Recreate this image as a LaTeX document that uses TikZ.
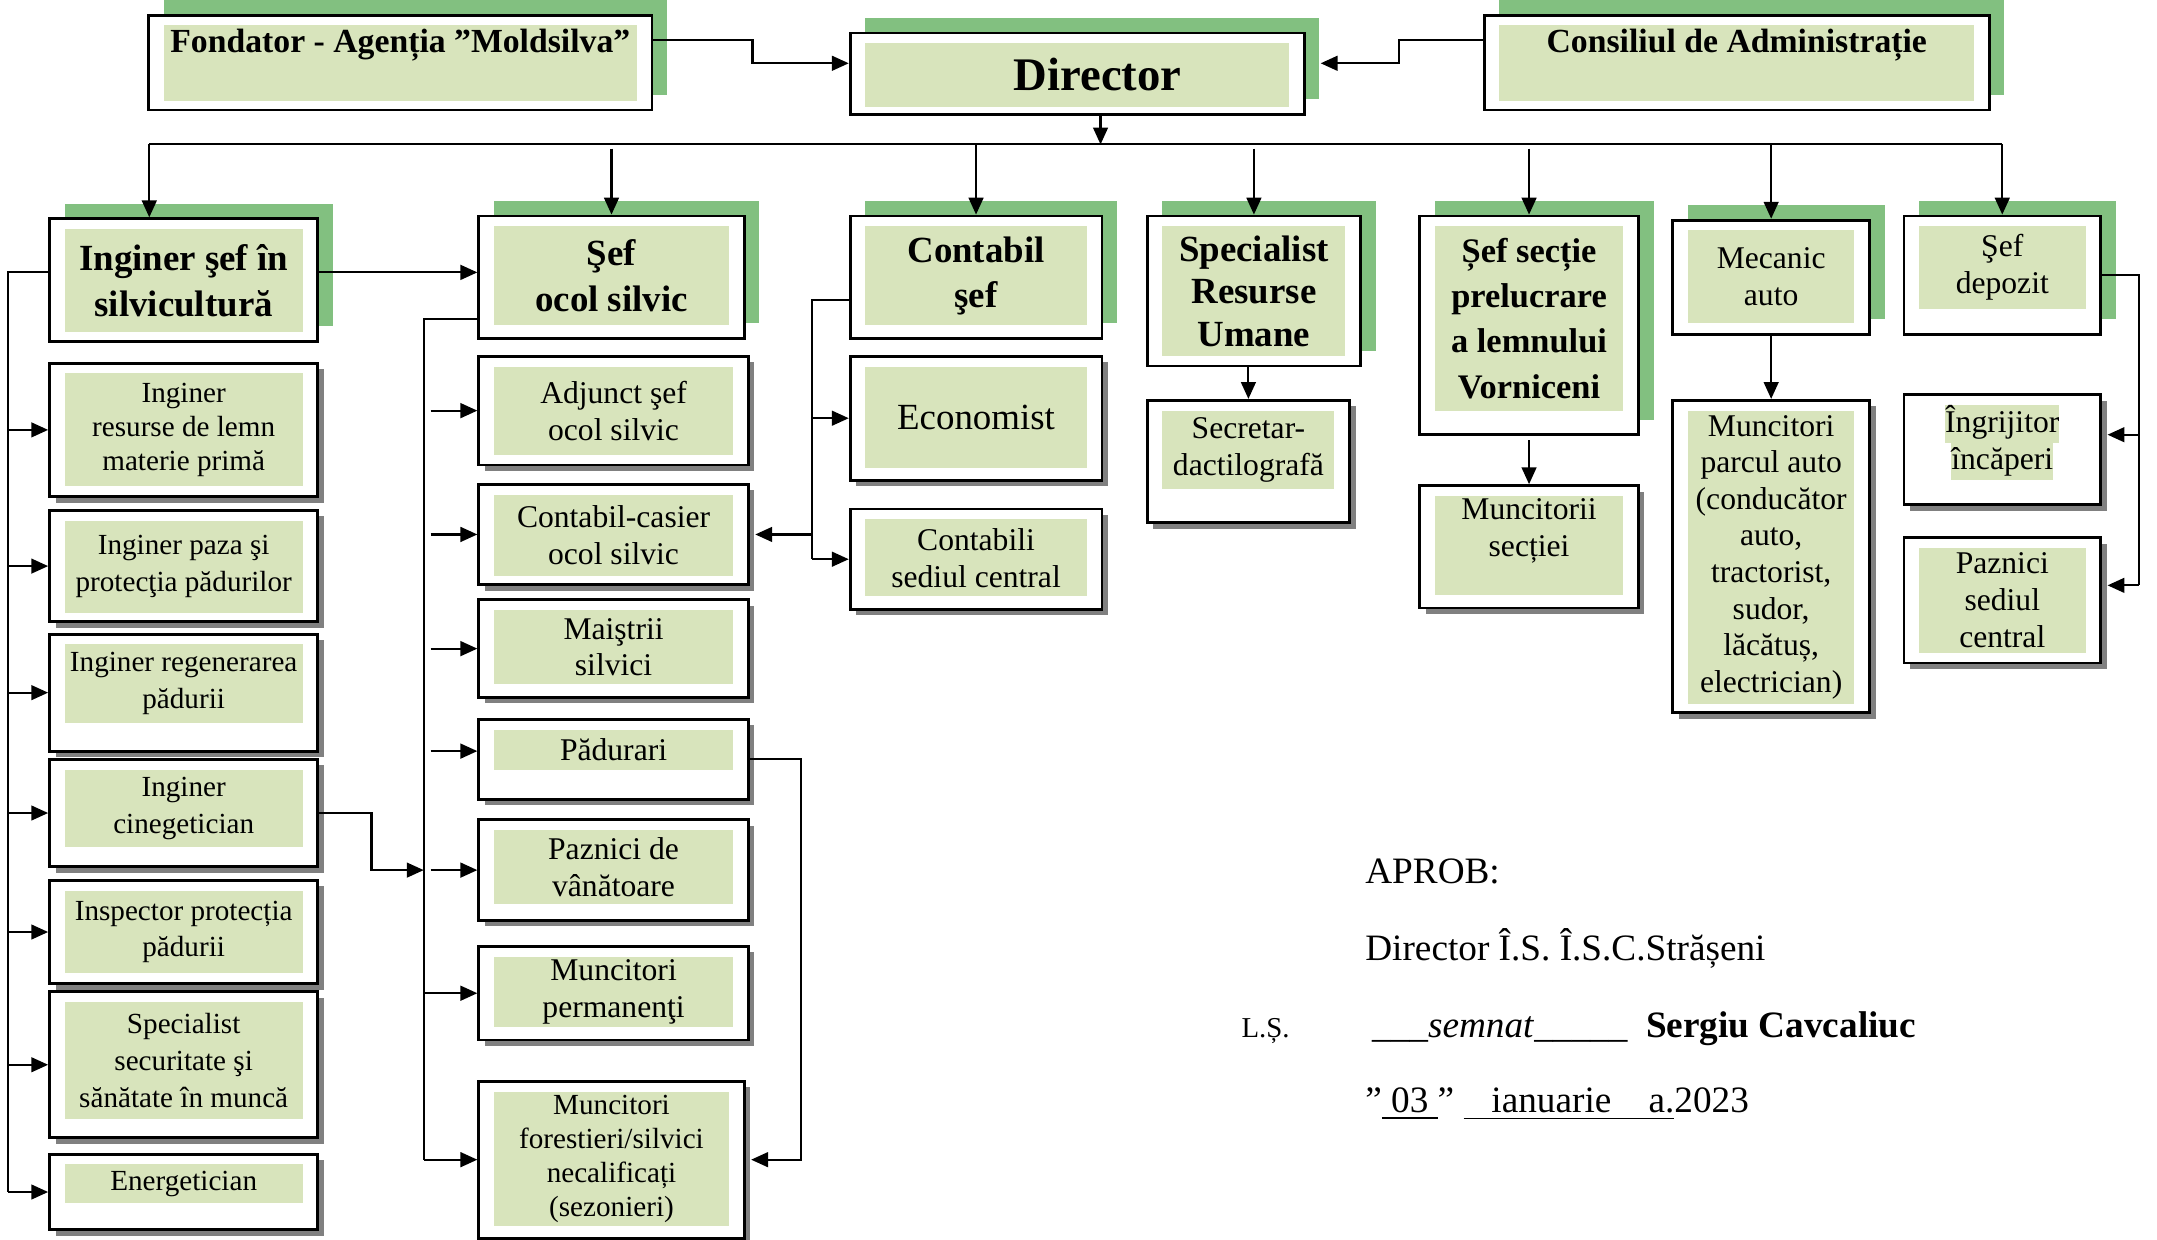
\documentclass[tikz,border=0pt]{standalone}
\usepackage{fontspec}
\setmainfont{Liberation Serif}
\usetikzlibrary{arrows.meta,shadows}
\definecolor{hdrgreen}{RGB}{130,192,128}
\definecolor{boxgreen}{RGB}{216,228,188}
\definecolor{shadowgray}{RGB}{128,128,128}
\setlength{\fboxsep}{0pt}
\def\pxu{0.013757cm}
\newcommand\fdir{\bfseries\fontsize{13.3}{16}\selectfont}
\newcommand\ftop{\bfseries\fontsize{9.6}{9.8}\selectfont}
\newcommand\fhdr{\bfseries\fontsize{10.5}{12.9}\selectfont}
\newcommand\fsub{\fontsize{9}{10.5}\selectfont}
\newcommand\fsmall{\fontsize{8.3}{10.5}\selectfont}
\newcommand\fnote{\fontsize{10.6}{12}\selectfont}
\def\orgbox[#1](#2)(#3,#4)(#5,#6)(#7)#8#9{%
  \node[#1, anchor=north west, minimum width=#5*\pxu, minimum height=#6*\pxu] (#2) at (#3,#4) {};
  \node[field, #8, minimum width=(#5-22)*\pxu, minimum height=#7*\pxu] (#2-t) at ([yshift=-8*\pxu]#2.north) {#9};}

\begin{document}
\begin{tikzpicture}[x=\pxu, y=-\pxu,
    frame/.style={draw, fill=white, line width=0.8pt, inner sep=0pt},
    hdr/.style={frame, general shadow={fill=hdrgreen, shadow xshift=4.3pt, shadow yshift=4.3pt}},
    sub/.style={frame, general shadow={fill=shadowgray, shadow xshift=1.7pt, shadow yshift=-1.7pt}},
    field/.style={fill=boxgreen, inner sep=0pt, align=center, anchor=north},
    link/.style={line width=0.6pt},
    arr/.style={link, -{Triangle[length=4.8pt,width=4.2pt]}},
    note/.style={inner sep=0pt, font=\fnote, anchor=base west}]
	%%%%% START %%%%%
	\useasboundingbox (0,0) rectangle (1568,901);
	
	\orgbox[hdr](fond)(107,10)(366,69)(55){font=\ftop}{Fondator - Agenția ”Moldsilva”\\ \strut}
	\orgbox[hdr](dir)(617,23)(330,59)(46){font=\fdir}{\hspace*{0.41cm}Director}
	\orgbox[hdr](cons)(1078,10)(367,69)(55){font=\ftop}{Consiliul de Administrație\\ \strut}
	
	\orgbox[hdr](ingsef)(35,158)(195,89)(75){font=\fhdr}{Inginer şef în\\silvicultură}
	\orgbox[hdr](sefocol)(347,156)(193,89)(72){font=\fhdr}{Şef\\ocol silvic}
	\orgbox[hdr](contsef)(617,156)(183,89)(72){font=\fhdr}{Contabil\\şef}
	\orgbox[hdr](specru)(833,156)(155,109)(94){font=\fontsize{10.5}{12.1}\bfseries\selectfont}{Specialist\\Resurse\\Umane}
	\orgbox[hdr](sefsec)(1031,156)(159,159)(134){font=\fontsize{9.8}{12.9}\bfseries\selectfont}{Șef secție\\prelucrare\\a lemnului\\Vorniceni}
	\orgbox[hdr](mecanic)(1215,159)(143,83)(67){font=\fsub}{Mecanic\\auto}
	\orgbox[hdr](sefdep)(1383,156)(143,86)(60){font=\fsub}{Şef\\depozit}
	
	\orgbox[sub](l1)(35,263)(195,97)(82){font=\fontsize{8.3}{9.6}\selectfont}{Inginer\\resurse de lemn\\materie primă}
	\orgbox[sub](l2)(35,370)(195,81)(67){font=\fsmall}{Inginer paza şi\\protecţia pădurilor}
	\orgbox[sub](l3)(35,460)(195,85)(57){font=\fsmall}{Inginer regenerarea\\pădurii}
	\orgbox[sub](l4)(35,551)(195,78)(56){font=\fsmall}{Inginer\\cinegetician}
	\orgbox[sub](l5)(35,639)(195,75)(60){font=\fsmall}{Inspector protecția\\pădurii}
	\orgbox[sub](l6)(35,720)(195,106)(85){font=\fsmall}{Specialist\\securitate şi\\sănătate în muncă}
	\orgbox[sub](l7)(35,838)(195,55)(28){font=\fsmall}{Energetician}
	
	\orgbox[sub](m1)(347,258)(196,79)(64){font=\fsub}{Adjunct şef\\ocol silvic}
	\orgbox[sub](m2)(347,351)(196,73)(59){font=\fsub}{Contabil-casier\\ocol silvic}
	\orgbox[sub](m3)(347,435)(196,71)(54){font=\fsub}{Maiştrii\\silvici}
	\orgbox[sub](m4)(347,522)(196,58)(29){font=\fsub}{Pădurari}
	\orgbox[sub](m5)(347,595)(196,73)(54){font=\fsub}{Paznici de\\vânătoare}
	\orgbox[sub](m6)(347,687)(196,68)(51){font=\fsub}{Muncitori\\permanenţi}
	\orgbox[sub](m7)(347,785)(193,114)(98){font=\fontsize{8.3}{9.6}\selectfont}{Muncitori\\forestieri/silvici\\necalificați\\(sezonieri)}
	
	\orgbox[sub](econ)(617,258)(183,90)(74){font=\fontsize{10.5}{12}\selectfont}{Economist}
	\orgbox[sub](contab)(617,369)(183,73)(56){font=\fsub}{Contabili\\sediul central}
	\orgbox[sub](secr)(833,290)(147,89)(57){font=\fsub}{Secretar-\\dactilografă}
	\orgbox[sub](munsec)(1031,352)(159,89)(72){font=\fsub}{Muncitorii\\secției\\[-3.5pt]\strut}
	\orgbox[sub](munparc)(1215,290)(143,227)(213){font=\fontsize{9}{10.4}\selectfont}{Muncitori\\parcul auto\\(conducător\\auto,\\tractorist,\\sudor,\\lăcătuș,\\electrician)}
	\orgbox[sub](ingr)(1383,286)(143,80)(53){font=\fsub, fill=none}{\colorbox{boxgreen}{\strut Îngrijitor}\\\colorbox{boxgreen}{\strut încăperi}}
	\orgbox[sub](pazn)(1383,390)(143,91)(76){font=\fsub}{Paznici\\sediul\\central}
	
	% top
	\draw[arr] ([yshift=16.5*\pxu]fond.east) -- ++(72,0) |- ([yshift=7.5*\pxu]dir.west);
	\draw[arr] ([yshift=16.5*\pxu]cons.west) -- ++(-61,0) |- ([xshift=11*\pxu,yshift=7.5*\pxu]dir.east);
	
	\coordinate (bus) at (0,105);
	\coordinate (dirout) at ([xshift=17*\pxu]dir.south);
	\coordinate (ingin) at ([xshift=-25*\pxu]ingsef.north);
	\draw[arr] (dirout) -- (dirout |- bus);
	\draw[link] (ingin |- bus) -- (sefdep.north |- bus);
	\draw[arr] (ingin |- bus) -- (ingin);
	\foreach \b in {contsef,mecanic,sefdep}
		\draw[arr] (\b.north |- bus) -- (\b.north);
	\foreach \b in {sefocol,specru,sefsec}
		\draw[arr, shorten <=1.2pt] (\b.north |- bus) -- (\b.north);
	
	% left column
	\coordinate (lbus) at (6,0);
	\coordinate (ingout) at ([yshift=5.5*\pxu]ingsef.east);
	\draw[link] ([yshift=5.5*\pxu]ingsef.west) -| (lbus |- l7.west);
	\foreach \b in {l1,l2,l3,l4,l5,l6,l7}
		\draw[arr] (lbus |- \b.west) -- (\b.west);
	\draw[arr] (ingout) -- (ingout -| sefocol.west);
	
	% sef ocol column
	\coordinate (mbus) at (308,0);
	\draw[link] ([yshift=15*\pxu]sefocol.south west) -| (mbus |- m7.west);
	\foreach \b in {m1,m2,m3,m5}
		\draw[arr] ([xshift=-34*\pxu]\b.west) -- (\b.west);
	\draw[arr] ([xshift=-34*\pxu,yshift=6*\pxu]m4.west) -- ([yshift=6*\pxu]m4.west);
	\foreach \b in {m6,m7}
		\draw[arr] (mbus |- \b.west) -- (\b.west);
	\draw[arr] (l4.east) -- ++(38,0) |- (mbus |- m5.west);
	\draw[arr] (m4.east) -- ++(37,0) |- ([xshift=4*\pxu]m7.east);
	
	% contabil column
	\coordinate (cbus) at (590,0);
	\draw[link] ([yshift=-16.5*\pxu]contsef.west) -| (cbus |- contab.west);
	\foreach \b in {econ,contab}
		\draw[arr] (cbus |- \b.west) -- (\b.west);
	\draw[arr] (cbus |- m2.east) -- ([xshift=4*\pxu]m2.east);
	
	\draw[arr] (secr.north |- specru.south) -- (secr.north);
	\draw[arr, shorten <=1.2pt] (munsec.north |- sefsec.south) -- (munsec.north);
	\draw[arr] (mecanic.south) -- (munparc.north);
	
	\coordinate (rbus) at (1555,0);
	\coordinate (ingrin) at ([xshift=4*\pxu,yshift=11*\pxu]ingr.east);
	\coordinate (paznin) at ([xshift=4*\pxu,yshift=11*\pxu]pazn.east);
	\draw[link] (sefdep.east) -| (rbus |- paznin);
	\foreach \b in {ingrin,paznin}
		\draw[arr] (rbus |- \b) -- (\b);
	
	% aprob
	\node[note] (aprob) at (992,642) {APROB:};
	\node[note] (aprobdir) at (992,698) {Director Î.S. Î.S.C.Strășeni};
	\node[note, font=\fontsize{8.2}{10}\selectfont] (ls) at (902,754) {L.Ș.};
	\node[note] (semn) at (997,754) {\_\_\_\textit{semnat}\_\_\_\_\_\ \ \textbf{Sergiu Cavcaliuc}};
	\node[note] (data) at (992,809) {”\underline{\ 03\ }”\ \underline{\ \ \ ianuarie\ \ \ \ a.}2023};
	
	%%%%% END %%%%%
\end{tikzpicture}
\end{document}
